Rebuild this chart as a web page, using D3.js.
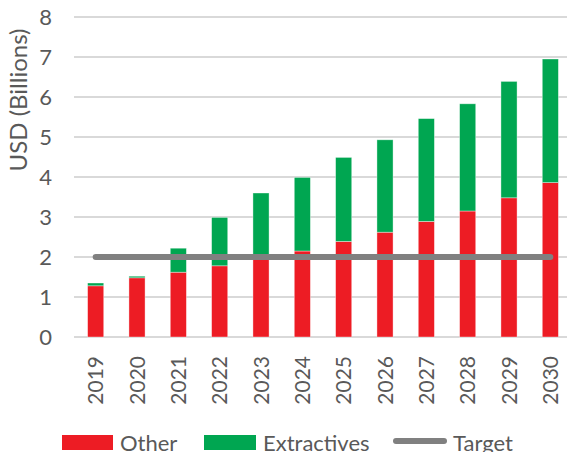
<!DOCTYPE html>
<html>
<head>
<meta charset="utf-8">
<script src="https://cdn.jsdelivr.net/npm/d3@7"></script>
<style>
  body { margin: 0; background: #fff; }
  text { font-family: Lato, "Open Sans", sans-serif; fill: #595959; }
</style>
</head>
<body>
<div id="paper"></div>
<script>

// chart values.

const years = ["2019", "2020", "2021", "2022", "2023", "2024", "2025", "2026", "2027", "2028", "2029", "2030"]
const other = [1.28, 1.48, 1.62, 1.78, 1.97, 2.15, 2.39, 2.62, 2.89, 3.15, 3.48, 3.86]
const extractives = [0.07, 0.04, 0.60, 1.21, 1.63, 1.84, 2.10, 2.31, 2.57, 2.68, 2.91, 3.09]
const target = 2
const y_ticks = [0, 1, 2, 3, 4, 5, 6, 7, 8]

const red = "#ED1C24"
const green = "#00A651"
const grey = "#808080"

// svg canvas.

let svg = d3.select("#paper")
    .append("svg")
    .attr("id", "canvas")
    .attr("width", 567)
    .attr("height", 452)

let x = d3.scaleBand().domain(years).range([75, 571]).paddingInner(0.61).paddingOuter(0.305)
let y = d3.scaleLinear().domain([0, 8]).range([337, 17])

// gridlines and y labels.

svg.selectAll(".grid")
    .data(y_ticks)
    .join("line")
    .attr("class", "grid")
    .attr("x1", 74)
    .attr("x2", 567)
    .attr("y1", d => y(d))
    .attr("y2", d => y(d))
    .style("stroke", "#d9d9d9")
    .style("stroke-width", 2)

svg.selectAll(".y_label")
    .data(y_ticks)
    .join("text")
    .attr("class", "y_label")
    .attr("x", 52)
    .attr("y", d => y(d))
    .attr("dy", "0.36em")
    .attr("text-anchor", "end")
    .style("font-size", "22px")
    .text(d => d)

svg.append("text")
    .attr("transform", "translate(27, 100) rotate(-90)")
    .attr("text-anchor", "middle")
    .style("font-size", "24px")
    .text("USD (Billions)")

// stacked bars.

let rows = years.map((yr, i) => ({year: yr, other: other[i], extractives: extractives[i]}))
let stack = d3.stack().keys(["other", "extractives"])(rows)
let colours = {other: red, extractives: green}

svg.selectAll(".series")
    .data(stack)
    .join("g")
    .attr("class", "series")
    .style("fill", d => colours[d.key])
    .selectAll("rect")
    .data(d => d)
    .join("rect")
    .attr("x", d => x(d.data.year))
    .attr("width", x.bandwidth())
    .attr("y", d => y(d[1]))
    .attr("height", d => y(d[0]) - y(d[1]))
    .style("stroke", "rgba(255,255,255,0.5)")
    .style("stroke-width", 0.75)

// x labels, rotated.

svg.selectAll(".x_label")
    .data(years)
    .join("text")
    .attr("class", "x_label")
    .attr("transform", d => `translate(${x(d) + x.bandwidth() / 2}, 356) rotate(-90)`)
    .attr("dy", "0.36em")
    .attr("text-anchor", "end")
    .style("font-size", "21px")
    .text(d => d)

// target line.

svg.append("line")
    .attr("x1", x(years[0]) + x.bandwidth() / 2)
    .attr("x2", x(years[years.length - 1]) + x.bandwidth() / 2)
    .attr("y1", y(target))
    .attr("y2", y(target))
    .style("stroke", grey)
    .style("stroke-width", 6)
    .style("stroke-linecap", "round")

// legend.

let legend = svg.append("g")

legend.append("rect").attr("x", 62).attr("y", 435).attr("width", 51).attr("height", 15).style("fill", red)
legend.append("text").attr("x", 120).attr("y", 451).style("font-size", "22px").text("Other")

legend.append("rect").attr("x", 204).attr("y", 435).attr("width", 52).attr("height", 15).style("fill", green)
legend.append("text").attr("x", 263).attr("y", 451).style("font-size", "22px").text("Extractives")

legend.append("line")
    .attr("x1", 396).attr("x2", 444).attr("y1", 441).attr("y2", 441)
    .style("stroke", grey).style("stroke-width", 6).style("stroke-linecap", "round")
legend.append("text").attr("x", 453).attr("y", 451).style("font-size", "22px").text("Target")

</script>
</body>
</html>
